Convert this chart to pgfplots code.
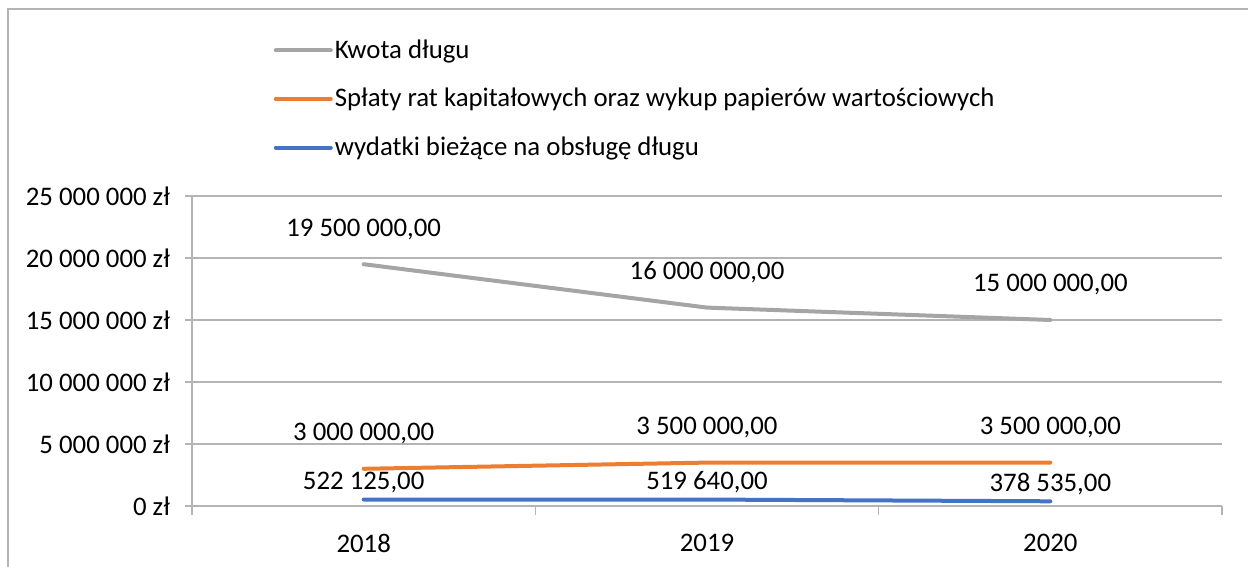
\documentclass[border=0pt]{standalone}
\usepackage{pgfplots}
\pgfplotsset{compat=1.18}
\usepackage{fontspec}
\setmainfont{Carlito}
\definecolor{cgray}{RGB}{165,165,165}
\definecolor{corange}{RGB}{237,125,49}
\definecolor{cblue}{RGB}{68,114,196}
\definecolor{cgrid}{RGB}{180,180,180}
\newcommand{\lblfont}{\fontsize{13.4}{15.5}\selectfont}
\begin{document}
\begin{tikzpicture}
  % 1 px of the reference = 0.5pt; plot area lower left at (0,0)
  \useasboundingbox (-96pt,-30.5pt) rectangle (528pt,253pt);
  \draw[cgrid, line width=0.6pt] (-92pt,-40pt) -- (-92pt,248.5pt) -- (540pt,248.5pt);
  \begin{axis}[
    at={(0,0)}, anchor=south west,
    scale only axis, width=515pt, height=155pt,
    xmin=-0.5, xmax=2.5, ymin=0, ymax=25000000,
    axis x line*=bottom, axis y line*=left,
    axis line style={cgrid, line width=0.6pt, -},
    xtick={0,1,2}, xticklabels={2018,2019,2020},
    xtick style={draw=none},
    ytick={0,5000000,10000000,15000000,20000000,25000000},
    yticklabels={0 zł, 5 000 000 zł, 10 000 000 zł, 15 000 000 zł, 20 000 000 zł, 25 000 000 zł},
    scaled y ticks=false,
    ytick style={cgrid, line width=0.6pt},
    tick align=outside, major tick length=3.5pt,
    ymajorgrids, grid style={cgrid, line width=0.6pt},
    tick label style={font=\lblfont, text=black},
    x tick label style={yshift=-7pt},
    y tick label style={xshift=-4pt},
    clip=false,
    /pgf/number format/assume math mode=true,
    /pgf/number format/.cd, fixed, fixed zerofill, precision=2, use comma, 1000 sep={\ },
    /pgfplots/.cd,
    nodes near coords,
    nodes near coords style={font=\lblfont, text=black, anchor=center},
    legend style={draw=none, fill=none, font=\lblfont, at={(0.0732,1.525)}, anchor=north west,
      row sep=11.5pt, nodes={inner sep=1pt}},
    legend cell align=left,
    legend image code/.code={\draw[#1, line width=2pt] (0pt,0pt) -- (27.5pt,0pt);},
  ]
    \addplot[cgray, line width=2pt, line cap=round,
      every node near coord/.append style={yshift=17.5pt}]
      coordinates {(0,19500000) (1,16000000) (2,15000000)};
    \addlegendentry{Kwota długu}
    \addplot[corange, line width=2pt, line cap=round,
      every node near coord/.append style={yshift=17.5pt}]
      coordinates {(0,3000000) (1,3500000) (2,3500000)};
    \addlegendentry{Spłaty rat kapitałowych oraz wykup papierów wartościowych}
    \addplot[cblue, line width=2pt, line cap=round,
      every node near coord/.append style={yshift=8.5pt}]
      coordinates {(0,522125) (1,519640) (2,378535)};
    \addlegendentry{wydatki bieżące na obsługę długu}
    \draw[cgrid, line width=0.6pt] (axis cs:-0.5,0) -- ([yshift=-4.5pt]axis cs:-0.5,0);
    \draw[cgrid, line width=0.6pt] (axis cs:0.5,0) -- ([yshift=-4.5pt]axis cs:0.5,0);
    \draw[cgrid, line width=0.6pt] (axis cs:1.5,0) -- ([yshift=-4.5pt]axis cs:1.5,0);
    \draw[cgrid, line width=0.6pt] (axis cs:2.5,0) -- ([yshift=-4.5pt]axis cs:2.5,0);
  \end{axis}
\end{tikzpicture}
\end{document}
